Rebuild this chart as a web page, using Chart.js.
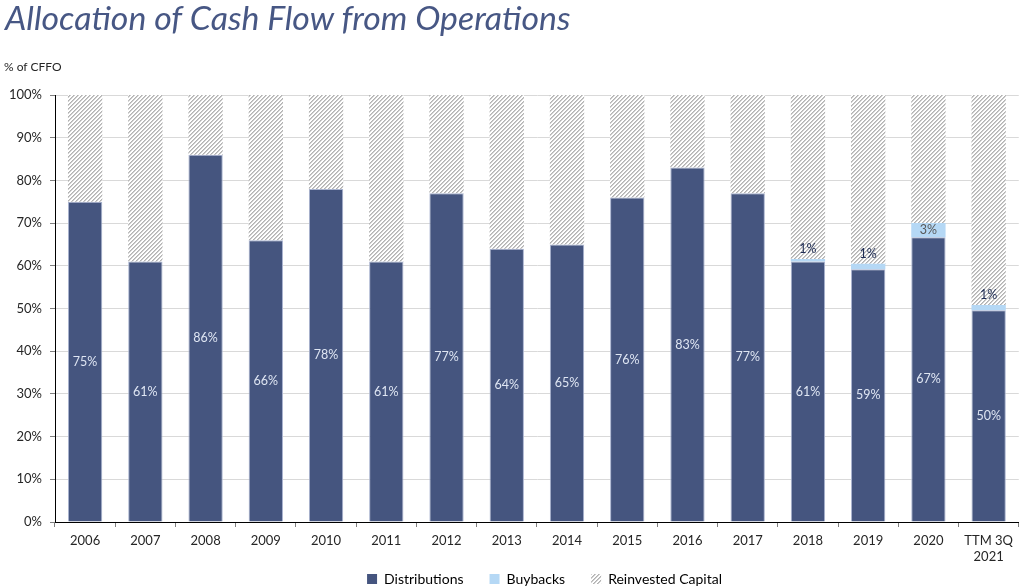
<!DOCTYPE html>
<html>
<head>
<meta charset="utf-8">
<script src="https://cdn.jsdelivr.net/npm/chart.js@4.4.0/dist/chart.umd.min.js"></script>
<style>
  body { margin: 0; background: #fff; }
  #wrap { position: relative; width: 1019px; height: 588px; }
  #title { position: absolute; left: 5px; top: -3px; font-family: Lato, sans-serif; font-style: italic; font-weight: 400;
           font-size: 33.8px; color: #475784; white-space: nowrap; }
  #sub { position: absolute; left: 4px; top: 59px; font-family: Lato, sans-serif; font-size: 12px; color: #262626; }
  canvas { position: absolute; left: 0; top: 0; }
</style>
</head>
<body>
<div id="wrap">
  <canvas id="myChart" width="1019" height="588"></canvas>
  <div id="title">Allocation of Cash Flow from Operations</div>
  <div id="sub">% of CFFO</div>
</div>
<script>
var years = ['2006', '2007', '2008', '2009', '2010', '2011', '2012', '2013', '2014', '2015', '2016', '2017', '2018', '2019', '2020', ['TTM 3Q', '2021']];
var distributions = [75, 61, 86, 66, 78, 61, 77, 64, 65, 76, 83, 77, 61, 59.2, 66.7, 49.6];
var buybacks = [0, 0, 0, 0, 0, 0, 0, 0, 0, 0, 0, 0, 0.6, 1.3, 3.3, 1.2];
var reinvested = [25, 39, 14, 34, 22, 39, 23, 36, 35, 24, 17, 23, 38.4, 39.5, 30, 49.2];
var yTicks = [0, 10, 20, 30, 40, 50, 60, 70, 80, 90, 100];

// fine upward-diagonal hatch, like the Excel pattern fill
function makeHatch() {
    var c = document.createElement('canvas');
    c.width = 4; c.height = 4;
    var x = c.getContext('2d');
    var img = x.createImageData(4, 4);
    for (var py = 0; py < 4; py++) {
        for (var px = 0; px < 4; px++) {
            var k = (px + py) % 4;
            var g = (k === 0) ? 178 : (k === 1 ? 205 : 255);
            var o = (py * 4 + px) * 4;
            img.data[o] = g; img.data[o + 1] = g; img.data[o + 2] = g; img.data[o + 3] = 255;
        }
    }
    x.putImageData(img, 0, 0);
    return x.createPattern(c, 'repeat');
}

var segLabels = {
    id: 'segLabels',
    afterDatasetsDraw: function (chart) {
        var ctx = chart.ctx;
        ctx.save();
        ctx.font = '12.5px Lato';
        ctx.textAlign = 'center';
        ctx.textBaseline = 'middle';
        chart.getDatasetMeta(0).data.forEach(function (bar, i) {
            ctx.fillStyle = '#dfe6f3';
            ctx.fillText(Math.round(distributions[i]) + '%', bar.x, (bar.y + bar.base) / 2);
        });
        chart.getDatasetMeta(1).data.forEach(function (bar, i) {
            var v = buybacks[i];
            if (!v) return;
            var h = bar.base - bar.y;
            if (h > 10) {
                ctx.fillStyle = '#595959';
                ctx.fillText(Math.round(v) + '%', bar.x, (bar.y + bar.base) / 2);
            } else {
                ctx.fillStyle = '#1f2d55';
                ctx.fillText(Math.round(v) + '%', bar.x, bar.y - 10);
            }
        });
        ctx.restore();
    }
};

var moveLegend = {
    id: 'moveLegend',
    afterLayout: function (chart) {
        chart.legend.left += 70;
        chart.legend.top -= 16;
    }
};

var ctx = document.getElementById('myChart').getContext('2d');
var hatch = makeHatch();

var myChart = new Chart(ctx, {
    type: 'bar',
    data: {
        labels: years,
        datasets: [{
            label: 'Distributions',
            data: distributions,
            backgroundColor: '#45557f',
            borderColor: '#a9b3cf',
            borderWidth: { left: 1, right: 1, top: 1, bottom: 0 },
            barPercentage: 0.57,
            categoryPercentage: 1
        }, {
            label: 'Buybacks',
            data: buybacks,
            backgroundColor: '#b5d8f5',
            borderWidth: 0,
            barPercentage: 0.57,
            categoryPercentage: 1
        }, {
            label: 'Reinvested Capital',
            data: reinvested,
            backgroundColor: hatch,
            borderWidth: 0,
            barPercentage: 0.57,
            categoryPercentage: 1
        }]
    },
    options: {
        responsive: false,
        animation: false,
        layout: { padding: { top: 95, right: 0, left: 0, bottom: 0 } },
        plugins: {
            tooltip: { enabled: false },
            legend: {
                position: 'bottom',
                maxHeight: 26,
                labels: {
                    font: { family: 'Lato', size: 14 },
                    color: '#262626',
                    boxWidth: 10,
                    boxHeight: 10,
                    padding: 26,
                    generateLabels: function (chart) {
                        return chart.data.datasets.map(function (ds, i) {
                            return { text: ds.label, fillStyle: ds.backgroundColor, lineWidth: 0, strokeStyle: 'rgba(0,0,0,0)', datasetIndex: i };
                        });
                    }
                }
            }
        },
        scales: {
            x: {
                stacked: true,
                border: { color: '#000000', width: 1 },
                grid: { offset: true, drawOnChartArea: false, drawTicks: true, tickLength: 5, color: '#7f7f7f' },
                ticks: { font: { family: 'Lato', size: 13 }, color: '#262626', padding: 6, maxRotation: 0 },
                afterFit: function (scale) { scale.height = 40; }
            },
            y: {
                stacked: true,
                min: 0,
                max: 100,
                border: { color: '#000000', width: 1 },
                grid: { color: '#d9d9d9', tickLength: 5, tickColor: '#7f7f7f' },
                afterBuildTicks: function (scale) {
                    scale.ticks = yTicks.map(function (v) { return { value: v }; });
                },
                ticks: {
                    font: { family: 'Lato', size: 13 },
                    color: '#262626',
                    padding: 8,
                    callback: function (v) { return v + '%'; }
                },
                afterFit: function (scale) { scale.width = 55; }
            }
        }
    },
    plugins: [segLabels, moveLegend]
});
</script>
</body>
</html>
